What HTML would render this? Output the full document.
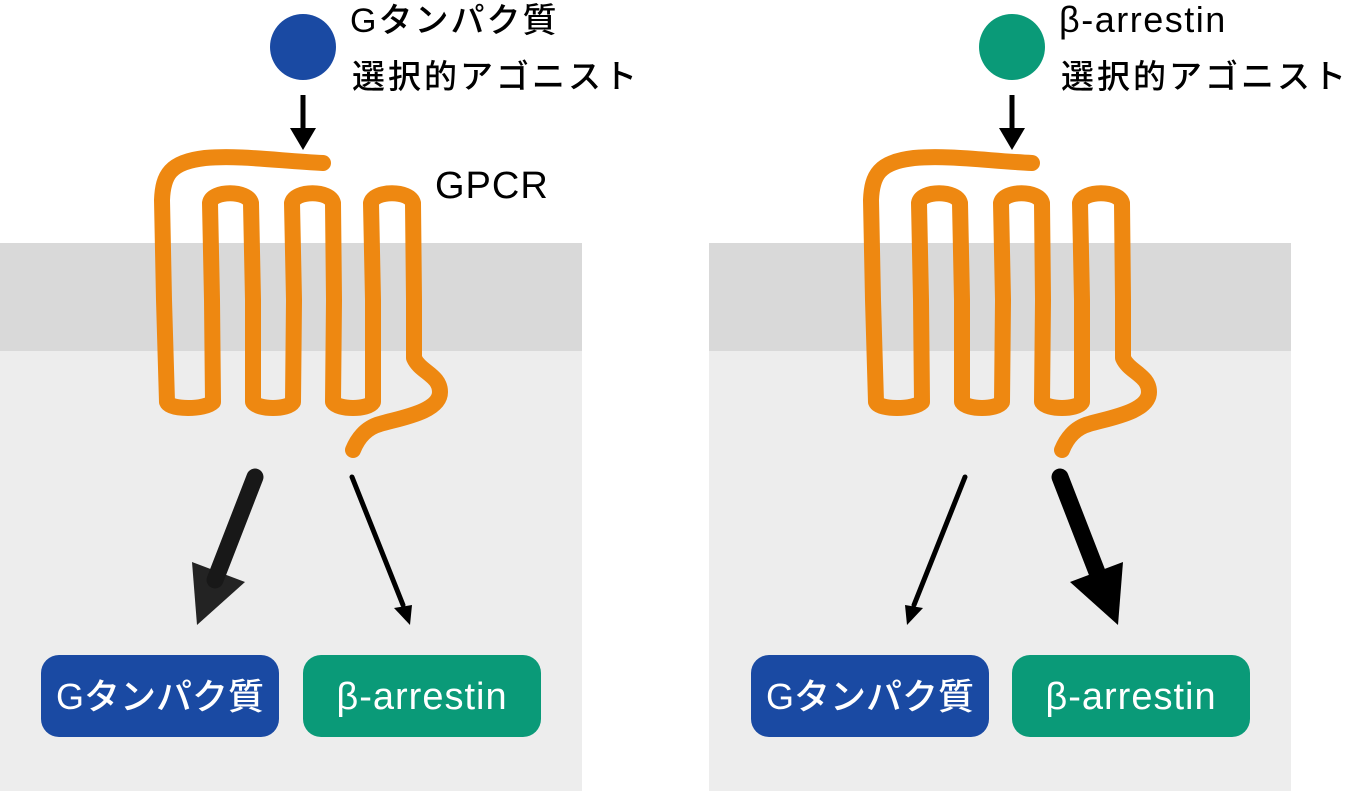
<!DOCTYPE html>
<html><head><meta charset="utf-8"><style>
html,body{margin:0;padding:0;background:#fff;}
svg{display:block}
text{font-family:"Liberation Sans","Noto Sans CJK JP",sans-serif;font-weight:500;}
</style></head><body>
<svg width="1350" height="791" viewBox="0 0 1350 791" xmlns="http://www.w3.org/2000/svg">
<defs>
<g id="panel">
  <rect x="0" y="243" width="582" height="108" fill="#d9d9d9"/>
  <rect x="0" y="351" width="582" height="440" fill="#ededed"/>
  <line x1="303" y1="95" x2="303" y2="132" stroke="#000" stroke-width="5"/>
  <polygon points="290,128 316,128 303,150" fill="#000"/>
  <path d="M323,163 C280,161 240,155 205,158 C170,162 163,175 162,200 L164,300 L167,402 C170,410 205,410 213,402 L212,300 L210,203 C212,190 248,190 251,203 L253,300 L253,402 C258,410 288,410 293,402 L294,300 L292,203 C295,190 330,190 333,203 L334,300 L333,402 C338,410 368,410 373,402 L373,300 L371,203 C374,190 410,190 413,203 L414,300 L414,358 C420,372 440,375 440,392 C440,412 400,418 380,424 C365,428 357,440 353,450"
        fill="none" stroke="#ee8811" stroke-width="16" stroke-linecap="round" stroke-linejoin="round"/>
</g>
</defs>
<use href="#panel"/>
<use href="#panel" x="709"/>

<!-- left panel -->
<circle cx="303" cy="47" r="33" fill="#1a4aa3"/>
<text x="350" y="32" font-size="34" letter-spacing="2" fill="#000" font-weight="bold">Gタンパク質</text>
<text x="352" y="88" font-size="33" letter-spacing="3" fill="#000">選択的アゴニスト</text>
<text x="435" y="198" font-size="38" letter-spacing="1" fill="#000">GPCR</text>

<line x1="255" y1="477" x2="215" y2="580" stroke="#181818" stroke-width="17" stroke-linecap="round"/>
<polygon points="192,562 245,582 197,625" fill="#181818" fill-opacity="0.95"/>
<line x1="352" y1="477" x2="403" y2="605" stroke="#000" stroke-width="5" stroke-linecap="round"/>
<polygon points="394,608 412,605 410,625" fill="#000"/>

<rect x="41" y="655" width="238" height="82" rx="18" fill="#1a4aa3"/>
<text x="160" y="709" font-size="36" fill="#fff" text-anchor="middle">Gタンパク質</text>
<rect x="303" y="655" width="238" height="82" rx="18" fill="#0a9a78"/>
<text x="422" y="709" font-size="38" letter-spacing="1" fill="#fff" text-anchor="middle">β-arrestin</text>

<!-- right panel -->
<circle cx="1012" cy="47" r="33" fill="#0a9a78"/>
<text x="1059" y="32" font-size="36" letter-spacing="1.5" fill="#000">β-arrestin</text>
<text x="1061" y="88" font-size="33" letter-spacing="3" fill="#000">選択的アゴニスト</text>

<line x1="965" y1="477" x2="914" y2="605" stroke="#000" stroke-width="5" stroke-linecap="round"/>
<polygon points="905,605 923,608 907,625" fill="#000"/>
<line x1="1060" y1="477" x2="1100" y2="580" stroke="#000" stroke-width="17" stroke-linecap="round"/>
<polygon points="1070,582 1123,562 1118,625" fill="#000"/>

<rect x="751" y="655" width="238" height="82" rx="18" fill="#1a4aa3"/>
<text x="870" y="709" font-size="36" fill="#fff" text-anchor="middle">Gタンパク質</text>
<rect x="1012" y="655" width="238" height="82" rx="18" fill="#0a9a78"/>
<text x="1131" y="709" font-size="38" letter-spacing="1" fill="#fff" text-anchor="middle">β-arrestin</text>
</svg>
</body></html>
